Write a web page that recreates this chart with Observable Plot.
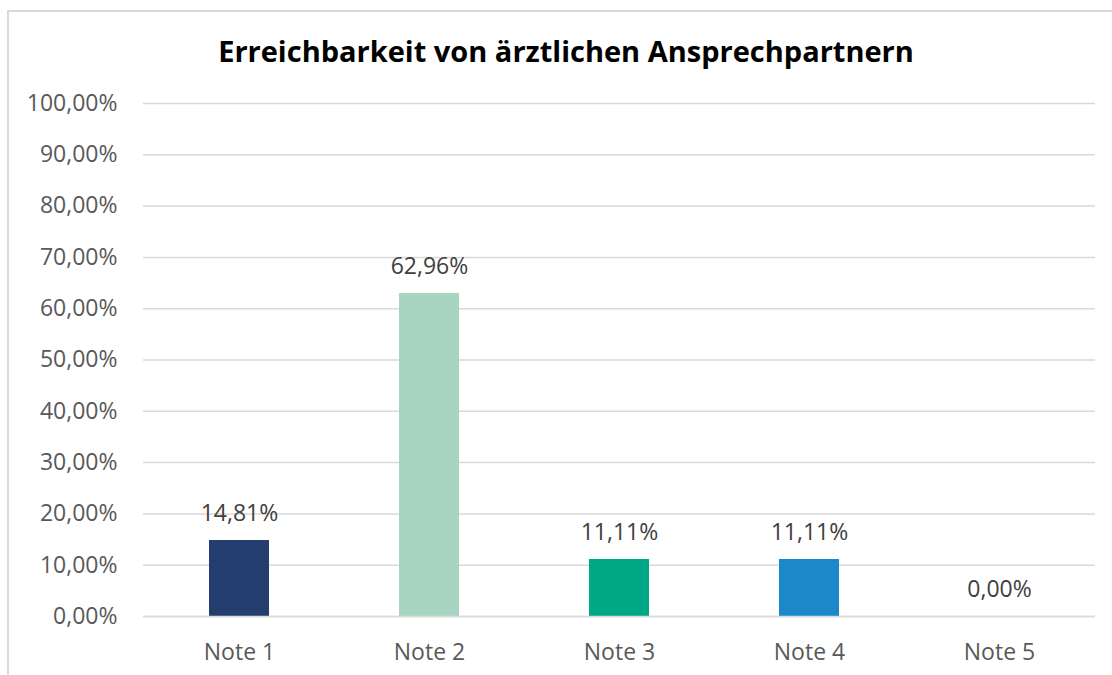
<!DOCTYPE html>
<html><head><meta charset="utf-8">
<script src="https://cdn.jsdelivr.net/npm/d3@7"></script>
<script src="https://cdn.jsdelivr.net/npm/@observablehq/plot@0.6"></script>
<style>
html,body{margin:0;padding:0;background:#fff;width:1112px;height:675px;overflow:hidden;font-family:"Open Sans",sans-serif;}
#frame{position:absolute;left:7px;top:10px;width:1200px;height:800px;border:2px solid #d9d9d9;box-sizing:border-box;}
#title{position:absolute;left:0;top:31px;width:1132px;text-align:center;font-weight:700;font-size:29px;line-height:40px;color:#000;}
#chart{position:absolute;left:0;top:75px;}
</style></head>
<body>
<div id="frame"></div>
<div id="title">Erreichbarkeit von ärztlichen Ansprechpartnern</div>
<div id="chart"></div>
<script>
const categories = ["Note 1","Note 2","Note 3","Note 4","Note 5"];
const values = [0.1481, 0.6296, 0.1111, 0.1111, 0.0];
const colors = ["#233e6e","#a8d5c2","#00a985","#1b88c9","#1b88c9"];
const yTicks = [0,0.1,0.2,0.3,0.4,0.5,0.6,0.7,0.8,0.9,1.0];

const data = categories.map((c,i)=>({cat:c, v:values[i], color:colors[i]}));
const fmt = v => (v*100).toFixed(2).replace(".", ",") + "%";

const chart = Plot.plot({
  width: 1112,
  height: 598,
  marginLeft: 143,
  marginRight: 17,
  marginTop: 28,
  marginBottom: 57,
  style: {fontFamily: "'Open Sans', sans-serif", fontSize: "23px", color: "#595959", background: "transparent"},
  x: {domain: categories, paddingInner: 0.685, paddingOuter: 0.3425, label: null, tickSize: 0, tickPadding: 27},
  y: {domain: [0,1], ticks: yTicks, tickFormat: fmt, label: null, tickSize: 0, tickPadding: 26},
  marks: [
    Plot.gridY(yTicks, {stroke: "#d9d9d9", strokeOpacity: 1, strokeWidth: 1.5}),
    Plot.barY(data, {x: "cat", y: "v", fill: d => d.color}),
    Plot.ruleY([0], {stroke: "#d9d9d9", strokeWidth: 1.5}),
    Plot.text(data, {x: "cat", y: "v", text: d => fmt(d.v), dy: -27, fill: "#404040", fontSize: 23})
  ]
});
document.getElementById("chart").appendChild(chart);
</script>
</body></html>
